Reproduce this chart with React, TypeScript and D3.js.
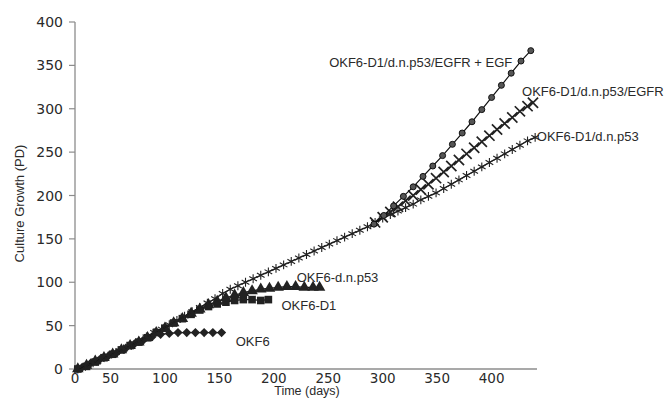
import * as d3 from "d3";

const W = 667, H = 398;

// time (days) and culture growth (PD)
const okf6Days = [24, 32, 40, 48, 56, 64, 72, 80, 88, 96, 104, 112, 120, 128, 136, 144, 152];
const okf6PD = [2, 7, 11, 15, 19, 24, 29, 33, 37, 40, 41, 42, 42, 42, 42, 42, 42];

const d1Days = [20, 28, 36, 44, 52, 60, 68, 76, 84, 92, 100, 108, 116, 124, 132, 140, 148, 156, 164, 172, 180, 188, 195];
const d1PD = [0, 3, 8, 13, 17, 22, 27, 31, 36, 42, 47, 53, 58, 63, 68, 72, 75, 77, 79, 80, 80, 79, 80];

const dnDays = [20, 28, 36, 44, 52, 60, 68, 76, 84, 92, 100, 108, 116, 124, 132, 140, 148, 156, 164, 172, 180, 188, 196, 204, 212, 220, 228, 236, 242];
const dnPD = [0, 4, 9, 13, 17, 22, 27, 31, 36, 42, 47, 53, 58, 64, 69, 74, 78, 82, 85, 88, 90, 92, 93, 94, 95, 95, 94, 94, 94];

const p53Days = [20, 27, 34, 41, 48, 55, 62, 69, 76, 83, 90, 97, 104, 111, 118, 125, 132, 139, 146, 153, 160, 167, 174, 181, 188, 195, 202, 209, 216, 223, 230, 237, 244, 251, 258, 265, 272, 279, 286, 293, 300, 307, 314, 321, 328, 335, 342, 349, 356, 363, 370, 377, 384, 391, 398, 405, 412, 419, 426, 433, 440];
const p53PD = [0, 3, 7, 11, 15, 19, 23, 27, 32, 37, 42, 46, 51, 56, 61, 66, 71, 76, 81, 87, 92, 96, 100, 104, 108, 112, 116, 120, 124, 128, 132, 136, 140, 144, 148, 152, 156, 160, 164, 169, 174, 178, 182, 186, 190, 195, 199, 203, 208, 213, 218, 223, 228, 233, 238, 243, 248, 253, 258, 263, 267];

const egfrDays = [293, 300, 307, 314, 321, 328, 335, 342, 349, 356, 363, 370, 377, 384, 391, 398, 405, 412, 419, 426, 433, 438];
const egfrPD = [169, 175, 181, 187, 194, 200, 207, 213, 220, 227, 234, 241, 248, 255, 262, 269, 276, 283, 290, 297, 303, 307];

const egfDays = [292, 301, 310, 319, 328, 337, 346, 355, 364, 373, 382, 391, 400, 409, 418, 427, 436];
const egfPD = [167, 177, 188, 199, 210, 222, 234, 246, 259, 272, 285, 299, 313, 327, 341, 355, 367];

const xTicks = [0, 50, 100, 150, 200, 250, 300, 350, 400];
const yTicks = [0, 50, 100, 150, 200, 250, 300, 350, 400];

const zip = (xs: number[], ys: number[]) => xs.map((d, i) => [d, ys[i]] as [number, number]);

const series = [
  { name: "OKF6", pts: zip(okf6Days, okf6PD), mark: "diamond", lx: 165, ly: 32, anchor: "start" },
  { name: "OKF6-D1", pts: zip(d1Days, d1PD), mark: "square", lx: 207, ly: 73, anchor: "start" },
  { name: "OKF6-d.n.p53", pts: zip(dnDays, dnPD), mark: "triangle", lx: 221, ly: 106, anchor: "start" },
  { name: "OKF6-D1/d.n.p53", pts: zip(p53Days, p53PD), mark: "asterisk", lx: 441.5, ly: 268, anchor: "start" },
  { name: "OKF6-D1/d.n.p53/EGFR", pts: zip(egfrDays, egfrPD), mark: "x", lx: 428, ly: 320, anchor: "start" },
  { name: "OKF6-D1/d.n.p53/EGFR + EGF", pts: zip(egfDays, egfPD), mark: "circle", lx: 419, ly: 354, anchor: "end" },
];

const x = d3.scaleLinear().domain([17.4, 441.7]).range([75, 537]).clamp(true);
const y = d3.scaleLinear().domain([0, 400]).range([369, 22]);

const line = d3.line<[number, number]>().x(d => x(d[0])).y(d => y(d[1]));

const sym = {
  diamond: d3.symbol(d3.symbolSquare, 42)(),
  square: d3.symbol(d3.symbolSquare, 58)(),
  triangle: d3.symbol(d3.symbolTriangle, 58)(),
  asterisk: d3.symbol(d3.symbolAsterisk, 55)(),
  x: d3.symbol(d3.symbolX, 70)(),
};

const Marker = ({ kind, cx, cy }: { kind: string; cx: number; cy: number }) => {
  if (kind === "circle")
    return <circle cx={cx} cy={cy} r={3} fill="#555" stroke="#111" strokeWidth={1} />;
  if (kind === "asterisk" || kind === "x")
    return <path d={sym[kind]} transform={`translate(${cx},${cy})`} fill="none" stroke="#222" strokeWidth={kind === "x" ? 1.7 : 1.1} />;
  const rot = kind === "diamond" ? " rotate(45)" : "";
  return <path d={(sym as any)[kind]} transform={`translate(${cx},${cy})${rot}`} fill="#222" />;
};

export default function App() {
  const axisCol = "#8c8c8c";
  const tickFont = "'DejaVu Sans', Verdana, sans-serif";
  const labFont = "'Liberation Sans', Arial, sans-serif";
  return (
    <svg width={W} height={H} style={{ position: "absolute", left: 0, top: 0, background: "#fff" }}>
      {/* axes */}
      <line x1={x.range()[0]} x2={x.range()[0]} y1={y(0)} y2={y(400)} stroke={axisCol} strokeWidth={1.3} />
      <line x1={x.range()[0]} x2={x.range()[1]} y1={y(0)} y2={y(0)} stroke={axisCol} strokeWidth={1.3} />
      {yTicks.map(t => (
        <g key={t}>
          <line x1={x.range()[0] - 6} x2={x.range()[0]} y1={y(t)} y2={y(t)} stroke={axisCol} strokeWidth={1.2} />
          <text x={x.range()[0] - 12} y={y(t)} dy="0.36em" textAnchor="end" fontSize={14} fontFamily={tickFont} fill="#2a2a2a">{t}</text>
        </g>
      ))}
      {xTicks.map(t => (
        <text key={t} x={x(t)} y={y(0) + 9} dy="0.36em" textAnchor="middle" fontSize={13.5} fontFamily={tickFont} fill="#2a2a2a">{t}</text>
      ))}
      <text x={307} y={395} textAnchor="middle" fontSize={12.5} fontFamily={labFont} fill="#2a2a2a">Time (days)</text>
      <text transform={`translate(24,${(y(0) + y(400)) / 2 + 8}) rotate(-90)`} textAnchor="middle" fontSize={13} fontFamily={labFont} fill="#2a2a2a">Culture Growth (PD)</text>

      {series.map(s => (
        <g key={s.name}>
          <path d={line(s.pts) || ""} fill="none" stroke="#111" strokeWidth={1.2} />
          {s.pts.map((p, i) => <Marker key={i} kind={s.mark} cx={x(p[0])} cy={y(p[1])} />)}
          <text x={x(s.lx)} y={y(s.ly)} dy="0.36em" textAnchor={s.anchor} fontSize={13} fontFamily={labFont} fill="#2a2a2a">{s.name}</text>
        </g>
      ))}
    </svg>
  );
}
